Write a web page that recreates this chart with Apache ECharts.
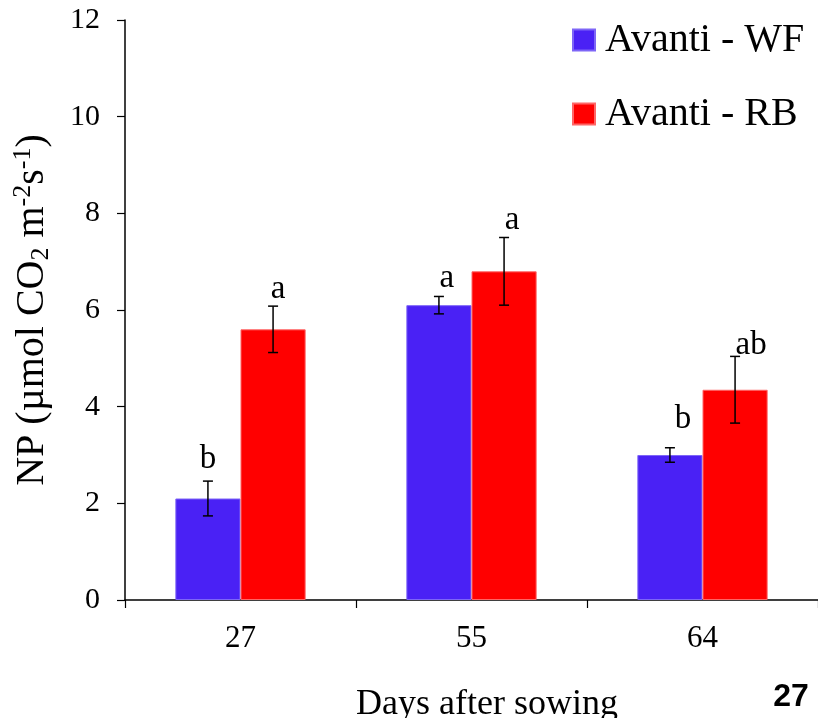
<!DOCTYPE html>
<html>
<head>
<meta charset="utf-8">
<style>
  html, body { margin: 0; padding: 0; background: #fff; }
  #chart { width: 818px; height: 718px; }
</style>
<script src="https://cdn.jsdelivr.net/npm/echarts@6/dist/echarts.min.js"></script>
</head>
<body>
<div id="chart"></div>
<script>
// Net photosynthesis of Avanti under two light treatments
const days = ['27', '55', '64'];
const wfMean = [2.1, 6.1, 3.0];
const wfErr = [0.36, 0.18, 0.15];
const wfLetters = ['b', 'a', 'b'];
const rbMean = [5.6, 6.8, 4.35];
const rbErr = [0.48, 0.7, 0.69];
const rbLetters = ['a', 'a', 'ab'];
const yTicks = { min: 0, max: 12, interval: 2 };

const SERIF = '"Liberation Serif", "Times New Roman", serif';
const BLUE = '#4A21F5';
const RED = '#FF0000';
const BAR_FRACTION = 0.282;
const LETTER_SIZE = 33;

// small hand-placed nudges for the significance letters: [dx, gap above cap]
const letterNudge = [
  [[0, 11], [8, 7], [13, 17]],
  [[5, 6], [8, 6], [16, 0]]
];

function errorSeries(name, means, errs, letters, side, nudges) {
  return {
    type: 'custom',
    name: name + ' err',
    z: 5,
    data: means.map((m, i) => [i, m, errs[i], letters[i], nudges[i][0], nudges[i][1]]),
    renderItem: function (params, api) {
      const idx = api.value(0);
      const band = api.size([1, 0])[0];
      const dx = side * band * BAR_FRACTION / 2;
      const m = api.value(1), e = api.value(2);
      const hi = api.coord([idx, m + e]);
      const lo = api.coord([idx, m - e]);
      const x = hi[0] + dx;
      const cap = 5;
      const ls = { stroke: '#000', lineWidth: 1.5 };
      const baseline = hi[1] - api.value(5);
      return {
        type: 'group',
        children: [
          { type: 'line', shape: { x1: x, y1: hi[1], x2: x, y2: lo[1] }, style: ls },
          { type: 'line', shape: { x1: x - cap, y1: hi[1], x2: x + cap, y2: hi[1] }, style: ls },
          { type: 'line', shape: { x1: x - cap, y1: lo[1], x2: x + cap, y2: lo[1] }, style: ls },
          {
            type: 'text',
            style: {
              x: x + api.value(4),
              y: baseline - LETTER_SIZE * 0.34,
              text: letters[idx],
              font: LETTER_SIZE + 'px ' + SERIF,
              fill: '#000',
              align: 'center',
              verticalAlign: 'middle'
            }
          }
        ]
      };
    }
  };
}

const chart = echarts.init(document.getElementById('chart'), null, { renderer: 'canvas' });

chart.setOption({
  backgroundColor: '#fff',
  animation: false,
  grid: { left: 125, right: 0, top: 20, bottom: 118, containLabel: false },
  legend: {
    orient: 'vertical',
    left: 572,
    top: 19,
    padding: 0,
    icon: 'rect',
    itemWidth: 22,
    itemHeight: 21,
    itemGap: 32,
    data: ['Avanti - WF', 'Avanti - RB'],
    textStyle: {
      fontFamily: SERIF,
      fontSize: 40,
      lineHeight: 42,
      color: '#000',
      padding: [0, 0, 0, 5]
    }
  },
  xAxis: {
    type: 'category',
    data: days,
    boundaryGap: true,
    axisLine: { lineStyle: { color: '#000', width: 1.5 } },
    axisTick: { show: true, length: 8, lineStyle: { color: '#000', width: 1.2 } },
    axisLabel: { color: '#000', fontFamily: SERIF, fontSize: 31, margin: 23 },
    splitLine: { show: false }
  },
  yAxis: {
    type: 'value',
    min: yTicks.min,
    max: yTicks.max,
    interval: yTicks.interval,
    axisLine: { show: true, lineStyle: { color: '#000', width: 1.5 } },
    axisTick: { show: true, length: 8, lineStyle: { color: '#000', width: 1.2 } },
    axisLabel: { color: '#000', fontFamily: SERIF, fontSize: 30, margin: 25 },
    splitLine: { show: false }
  },
  series: [
    {
      name: 'Avanti - WF',
      type: 'bar',
      data: wfMean,
      barWidth: (BAR_FRACTION * 100) + '%',
      barGap: '0%',
      itemStyle: { color: BLUE, borderColor: '#7E66F7', borderWidth: 1 }
    },
    {
      name: 'Avanti - RB',
      type: 'bar',
      data: rbMean,
      barWidth: (BAR_FRACTION * 100) + '%',
      barGap: '0%',
      itemStyle: { color: RED, borderColor: '#FF6666', borderWidth: 1 }
    },
    errorSeries('Avanti - WF', wfMean, wfErr, wfLetters, -1, letterNudge[0]),
    errorSeries('Avanti - RB', rbMean, rbErr, rbLetters, 1, letterNudge[1])
  ],
  graphic: [
    {
      type: 'text',
      x: 32,
      y: 310,
      rotation: Math.PI / 2,
      style: {
        text: '{t|NP (µmol CO}{sub|2}{t| m}{sup|-2}{t|s}{sup|-1}{t|)}',
        align: 'center',
        verticalAlign: 'middle',
        fill: '#000',
        rich: {
          t: { fontFamily: SERIF, fontSize: 40, lineHeight: 44, fill: '#000' },
          sub: { fontFamily: SERIF, fontSize: 26, lineHeight: 26, verticalAlign: 'bottom', fill: '#000' },
          sup: { fontFamily: SERIF, fontSize: 26, lineHeight: 26, verticalAlign: 'top', fill: '#000' }
        }
      }
    },
    {
      type: 'text',
      x: 487,
      y: 705,
      style: {
        text: 'Days after sowing',
        font: '36px ' + SERIF,
        fill: '#000',
        align: 'center',
        verticalAlign: 'middle'
      }
    },
    {
      type: 'text',
      x: 791,
      y: 697,
      style: {
        text: '27',
        font: 'bold 32px "Liberation Sans", Arial, sans-serif',
        fill: '#000',
        align: 'center',
        verticalAlign: 'middle'
      }
    }
  ]
});
</script>
</body>
</html>
